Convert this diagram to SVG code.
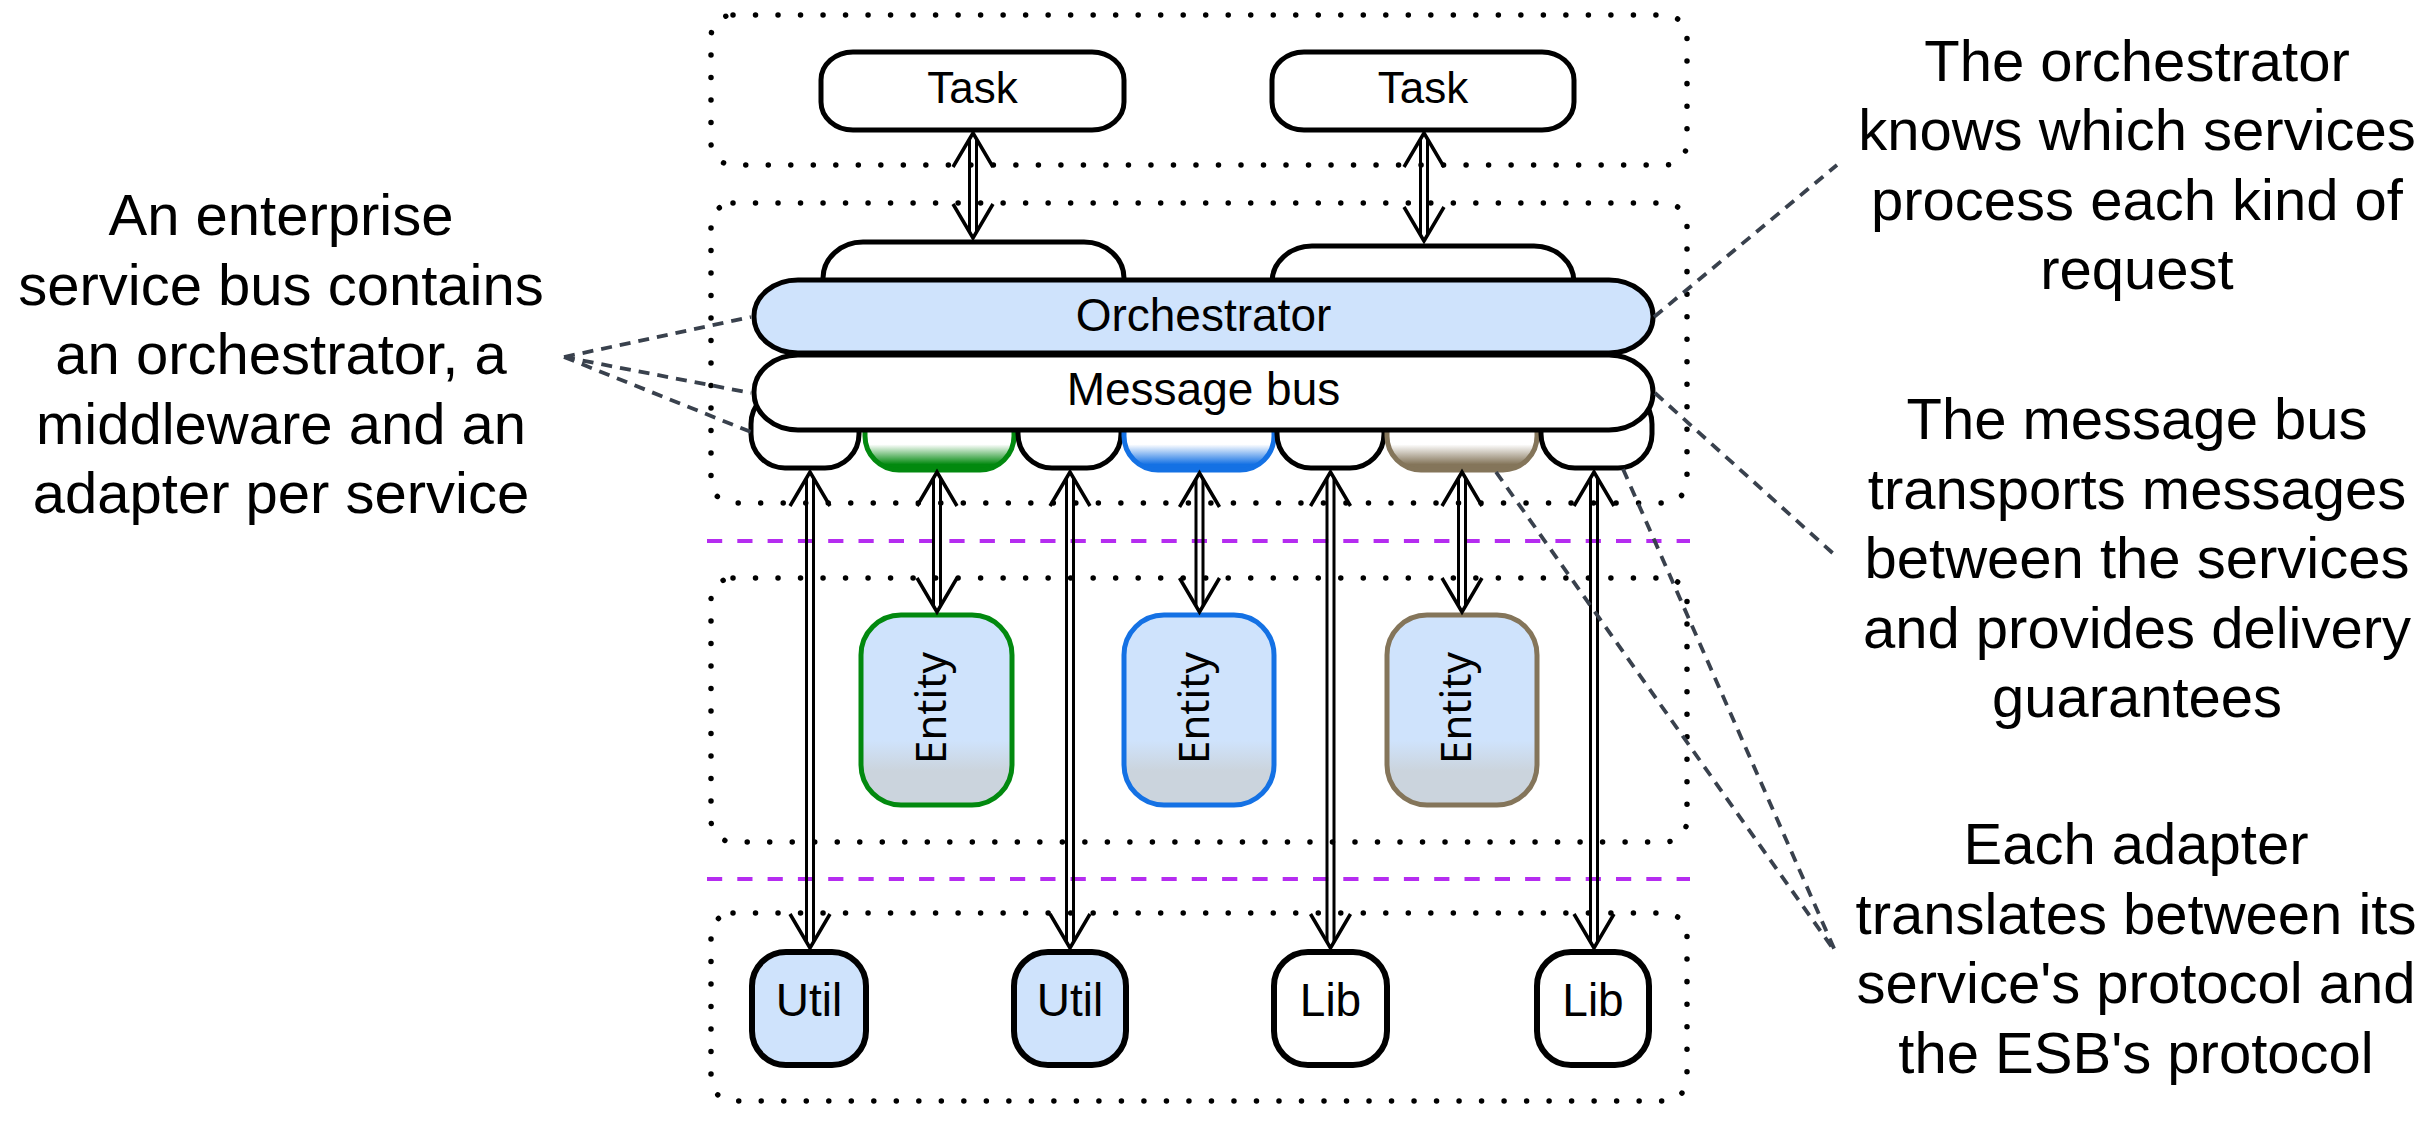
<svg xmlns="http://www.w3.org/2000/svg" width="2434" height="1121" viewBox="0 0 2434 1121">
  <style>
    .container { fill: none; stroke: #000; stroke-width: 5.5; stroke-dasharray: 0.01 22.5; stroke-linecap: round; }
    .layer { stroke: #b52cf0; stroke-width: 4; stroke-dasharray: 15.2 15.1; fill: none; }
    .box { fill: #fff; stroke: #000; stroke-width: 5; }
    .blue { fill: #cfe3fc; }
    .label { font-family: "Liberation Sans", Arial, sans-serif; font-size: 46px; text-anchor: middle; fill: #000; }
    .task { font-size: 44px; }
    .elabel { font-family: "Noto Sans", "DejaVu Sans", sans-serif; font-size: 42px; text-anchor: middle; fill: #000; }
    .note { font-family: "Liberation Sans", Arial, sans-serif; font-size: 58px; text-anchor: middle; fill: #000; }
    .shaft { fill: none; stroke: #000; stroke-width: 3; }
    .tip { fill: none; stroke: none; marker-start: url(#openV); marker-end: url(#openV); }
    .callout { fill: none; stroke: #39414d; stroke-width: 3.8; stroke-dasharray: 11 8; }
  </style>
  <defs>
    <marker id="openV" markerUnits="userSpaceOnUse" markerWidth="80" markerHeight="80" refX="0" refY="0" orient="auto-start-reverse" overflow="visible" viewBox="-40 -40 80 80">
      <path d="M -34 -20 L 0 0 L -34 20" fill="none" stroke="#000" stroke-width="3.5" stroke-linejoin="miter"/>
    </marker>
    <linearGradient id="gEntity" x1="0" y1="0" x2="0" y2="1">
      <stop offset="0" stop-color="#cfe3fc"/>
      <stop offset="0.66" stop-color="#cfe3fc"/>
      <stop offset="0.82" stop-color="#cbd4dd"/>
      <stop offset="1" stop-color="#cbd4dd"/>
    </linearGradient>
    <linearGradient id="gGreen" x1="0" y1="0" x2="0" y2="1">
      <stop offset="0" stop-color="#fff"/>
      <stop offset="0.68" stop-color="#fff"/>
      <stop offset="0.93" stop-color="#02890f"/>
    </linearGradient>
    <linearGradient id="gBlue" x1="0" y1="0" x2="0" y2="1">
      <stop offset="0" stop-color="#fff"/>
      <stop offset="0.68" stop-color="#fff"/>
      <stop offset="0.93" stop-color="#1471e4"/>
    </linearGradient>
    <linearGradient id="gTan" x1="0" y1="0" x2="0" y2="1">
      <stop offset="0" stop-color="#fff"/>
      <stop offset="0.68" stop-color="#fff"/>
      <stop offset="0.93" stop-color="#84755a"/>
    </linearGradient>
  </defs>

  <!-- layer containers -->
  <g id="containers">
    <rect id="tasks-layer" class="container" x="711" y="15" width="976" height="150" rx="22"/>
    <rect id="esb-layer" class="container" x="711" y="203" width="976" height="300" rx="22"/>
    <rect id="entity-layer" class="container" x="711" y="578" width="976" height="264" rx="22"/>
    <rect id="lib-layer" class="container" x="711" y="913" width="976" height="188" rx="22"/>
    <line class="layer" x1="707" y1="541" x2="1690" y2="541"/>
    <line class="layer" x1="707" y1="879" x2="1690" y2="879"/>
  </g>

  <!-- tasks -->
  <g id="task1"><rect class="box" x="821" y="52" width="303" height="78" rx="32" ry="28"/><text class="label task" x="972.5" y="103">Task</text></g>
  <g id="task2"><rect class="box" x="1272" y="52" width="302" height="78" rx="32" ry="28"/><text class="label task" x="1423" y="103">Task</text></g>

  <!-- entry tabs behind orchestrator -->
  <g id="tab1"><rect class="box" x="823" y="242" width="301" height="80" rx="40" ry="36"/></g>
  <g id="tab2"><rect class="box" x="1272" y="246" width="302" height="76" rx="40" ry="36"/></g>

  <!-- adapters behind message bus -->
  <g id="adapter1"><rect class="box" x="751" y="390" width="108" height="78" rx="34"/></g>
  <g id="adapter2"><rect class="box" x="865" y="390" width="149" height="80" rx="34" style="fill:url(#gGreen);stroke:#02890f"/></g>
  <g id="adapter3"><rect class="box" x="1018" y="390" width="103" height="78" rx="34"/></g>
  <g id="adapter4"><rect class="box" x="1124" y="390" width="150" height="80" rx="34" style="fill:url(#gBlue);stroke:#1471e4"/></g>
  <g id="adapter5"><rect class="box" x="1277" y="390" width="107" height="78" rx="34"/></g>
  <g id="adapter6"><rect class="box" x="1387" y="390" width="150" height="80" rx="34" style="fill:url(#gTan);stroke:#84755a"/></g>
  <g id="adapter7"><rect class="box" x="1541" y="390" width="111" height="78" rx="34"/></g>

  <g id="orchestrator"><rect class="box blue" x="754" y="280" width="899" height="73" rx="44" ry="36"/><text class="label" x="1203.5" y="331">Orchestrator</text></g>
  <g id="message-bus"><rect class="box" x="754" y="355" width="899" height="75" rx="44" ry="37"/><text class="label" x="1203.5" y="405">Message bus</text></g>

  <!-- entities -->
  <g id="entity1"><rect class="box" x="861" y="615" width="151" height="190" rx="40" style="fill:url(#gEntity);stroke:#02890f"/><text class="elabel" transform="translate(946,708) rotate(-90)">Entity</text></g>
  <g id="entity2"><rect class="box" x="1124" y="615" width="150" height="190" rx="40" style="fill:url(#gEntity);stroke:#1471e4"/><text class="elabel" transform="translate(1208.5,708) rotate(-90)">Entity</text></g>
  <g id="entity3"><rect class="box" x="1387" y="615" width="150" height="190" rx="40" style="fill:url(#gEntity);stroke:#84755a"/><text class="elabel" transform="translate(1471,708) rotate(-90)">Entity</text></g>

  <!-- utils and libs -->
  <g id="util1"><rect class="box blue" x="752" y="952" width="114" height="113" rx="34" style="stroke-width:6"/><text class="label" x="809" y="1016">Util</text></g>
  <g id="util2"><rect class="box blue" x="1014" y="952" width="112" height="113" rx="34" style="stroke-width:6"/><text class="label" x="1070" y="1016">Util</text></g>
  <g id="lib1"><rect class="box" x="1274" y="952" width="113" height="113" rx="34" style="stroke-width:6"/><text class="label" x="1330.5" y="1016">Lib</text></g>
  <g id="lib2"><rect class="box" x="1537" y="952" width="112" height="113" rx="34" style="stroke-width:6"/><text class="label" x="1593" y="1016">Lib</text></g>

  <!-- connectors -->
  <g id="connectors">
    <g><path class="shaft" d="M969.5 139V232M976.5 139V232"/><line class="tip" x1="973" y1="133" x2="973" y2="238"/></g>
    <g><path class="shaft" d="M1420.5 139V235M1427.5 139V235"/><line class="tip" x1="1424" y1="133" x2="1424" y2="241"/></g>
    <g><path class="shaft" d="M806.5 478V942M813.5 478V942"/><line class="tip" x1="810" y1="472" x2="810" y2="948"/></g>
    <g><path class="shaft" d="M933.5 478V606M940.5 478V606"/><line class="tip" x1="937" y1="472" x2="937" y2="612"/></g>
    <g><path class="shaft" d="M1066.5 478V942M1073.5 478V942"/><line class="tip" x1="1070" y1="472" x2="1070" y2="948"/></g>
    <g><path class="shaft" d="M1196 479V606M1203 479V606"/><line class="tip" x1="1199.5" y1="473" x2="1199.5" y2="612"/></g>
    <g><path class="shaft" d="M1327 478V942M1334 478V942"/><line class="tip" x1="1330.5" y1="472" x2="1330.5" y2="948"/></g>
    <g><path class="shaft" d="M1458.5 478V606M1465.5 478V606"/><line class="tip" x1="1462" y1="472" x2="1462" y2="612"/></g>
    <g><path class="shaft" d="M1590.5 478V942M1597.5 478V942"/><line class="tip" x1="1594" y1="472" x2="1594" y2="948"/></g>
  </g>

  <!-- annotations -->
  <g id="note-esb">
    <text class="note" x="281" y="235">An enterprise</text>
    <text class="note" x="281" y="304.6">service bus contains</text>
    <text class="note" x="281" y="374.2">an orchestrator, a</text>
    <text class="note" x="281" y="443.8">middleware and an</text>
    <text class="note" x="281" y="513.4">adapter per service</text>
  </g>
  <g id="note-orchestrator">
    <text class="note" x="2137" y="80.5">The orchestrator</text>
    <text class="note" x="2137" y="150.1">knows which services</text>
    <text class="note" x="2137" y="219.7">process each kind of</text>
    <text class="note" x="2137" y="289.3">request</text>
  </g>
  <g id="note-bus">
    <text class="note" x="2137" y="439">The message bus</text>
    <text class="note" x="2137" y="508.6">transports messages</text>
    <text class="note" x="2137" y="578.2">between the services</text>
    <text class="note" x="2137" y="647.8">and provides delivery</text>
    <text class="note" x="2137" y="717.4">guarantees</text>
  </g>
  <g id="note-adapter">
    <text class="note" x="2136" y="864">Each adapter</text>
    <text class="note" x="2136" y="933.7">translates between its</text>
    <text class="note" x="2136" y="1003.4">service's protocol and</text>
    <text class="note" x="2136" y="1073.1">the ESB's protocol</text>
  </g>

  <g id="callouts">
    <path class="callout" d="M564 357L751 317M564 357L751 393M564 357L751 432"/>
    <path class="callout" d="M1654 317L1837 165"/>
    <path class="callout" d="M1655 393L1837 557"/>
    <path class="callout" d="M1496 472L1836 953M1623 469L1836 953"/>
  </g>
</svg>
